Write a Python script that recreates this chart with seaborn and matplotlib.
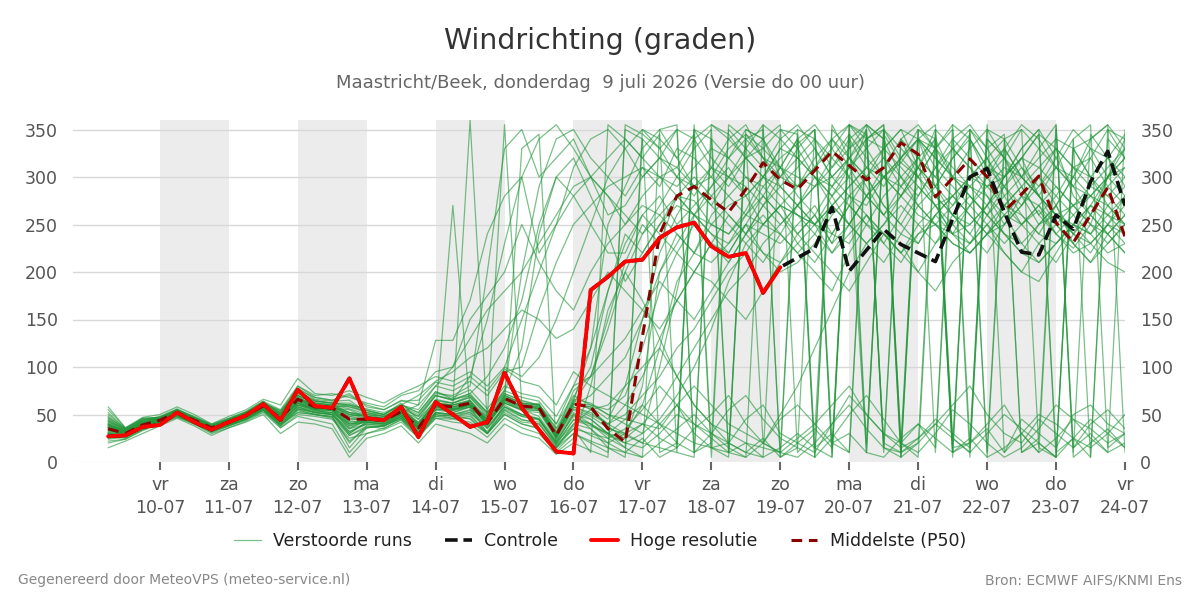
import numpy as np
import pandas as pd
import matplotlib
matplotlib.use("Agg")
import matplotlib.pyplot as plt
from matplotlib.lines import Line2D
import seaborn as sns

# ---------------- data ----------------
# time axis: 6-hourly steps from 9 July 06 UTC (day 9.25) to 24 July 00 UTC
start_day = 9.25
step_days = 0.25
n_steps = 60

day_ticks = list(range(10, 25))
day_names = ["vr", "za", "zo", "ma", "di", "wo", "do", "vr", "za", "zo", "ma", "di", "wo", "do", "vr"]
day_labels = ["10-07", "11-07", "12-07", "13-07", "14-07", "15-07", "16-07", "17-07",
              "18-07", "19-07", "20-07", "21-07", "22-07", "23-07", "24-07"]
shaded_days = [10, 12, 14, 16, 18, 20, 22]

hoge_resolutie = [27, 28, 37, 39, 52, 42, 34, 42, 49, 61,
                  44, 76, 59, 57, 88, 46, 44, 58, 26, 63,
                  50, 37, 42, 94, 57, 34, 11, 9, 181, 195,
                  211, 213, 236, 247, 252, 227, 216, 220, 178, 205]

controle = [27, 28, 37, 39, 52, 42, 34, 42, 49, 61,
            44, 76, 59, 57, 88, 46, 44, 58, 26, 63,
            50, 37, 42, 94, 57, 34, 11, 9, 181, 195,
            211, 213, 236, 247, 252, 227, 216, 220, 178, 205,
            215, 225, 268, 201, 223, 245, 229, 220, 211, 256,
            300, 309, 263, 221, 218, 260, 245, 295, 327, 270]

p50 = [35, 30, 39, 44, 52, 44, 36, 42, 49, 59,
       46, 66, 58, 57, 45, 45, 44, 53, 36, 60,
       58, 62, 41, 67, 59, 57, 28, 61, 58, 35,
       21, 132, 240, 280, 290, 276, 263, 287, 315, 297,
       287, 307, 327, 312, 297, 310, 336, 324, 279, 299,
       319, 300, 264, 282, 301, 252, 231, 260, 289, 237]

m01 = [38,31,42,45,54,45,35,43,50,60, 44,70,62,60,52,50,46,58,40,62, 55,60,38,70,62,55,30,75,90,140,
       200,240,260,280,275,250,240,265,300,320, 335,350,10,345,320,300,315,340,290,270, 300,320,280,250,265,240,225,250,300,280]
m02 = [30,28,36,42,50,42,34,40,47,57, 40,60,55,50,30,42,40,50,30,55, 52,58,45,62,55,48,22,50,45,30,
       25,40,35,60,30,15,20,10,25,5, 15,350,20,30,10,5,25,40,15,355, 20,35,10,45,30,15,50,60,40,30]
m03 = [45,33,44,48,56,47,38,45,52,63, 52,75,65,62,60,55,50,62,45,70, 65,90,150,230,300,340,355,330,300,280,
       250,280,300,290,310,330,320,350,340,300, 290,310,340,355,330,300,280,310,350,20, 340,300,270,290,310,330,280,260,300,320]
m04 = [25,27,35,40,49,40,32,38,45,55, 38,55,50,48,20,38,35,45,25,50, 48,50,30,55,45,40,15,40,35,20,
       10,25,5,15,350,340,10,20,5,15, 30,15,5,355,345,20,10,350,330,10, 25,5,15,30,10,350,5,20,35,15]
m05 = [50,35,46,47,55,48,40,46,53,64, 50,80,68,65,70,60,55,65,60,80, 75,85,70,95,100,160,210,250,270,290,
       300,310,290,330,320,300,280,260,250,270, 240,260,230,280,300,270,250,230,260,280, 300,290,270,260,240,230,250,270,260,250]
m06 = [33,29,38,43,51,43,36,41,48,58, 45,62,56,55,38,46,44,55,38,62, 60,65,40,68,58,62,25,65,55,40,
       60,90,130,170,200,230,220,250,240,230, 250,270,240,230,260,240,220,250,270,240, 230,260,240,220,250,270,230,210,240,260]
m07 = [40,30,40,44,53,44,37,42,49,60, 48,68,60,58,50,48,45,52,60,128, 128,170,240,280,300,220,250,310,340,350,
       330,300,320,350,340,310,290,320,330,350, 345,5,340,320,300,330,350,310,290,320, 340,310,290,270,300,330,310,290,280,300]
m08 = [28,26,37,42,50,43,34,40,46,56, 42,58,52,50,35,40,38,48,32,50, 270,55,45,60,50,45,20,40,55,60,
       80,100,120,90,60,40,30,20,15,10, 25,40,60,80,50,30,20,350,340,15, 20,40,60,30,10,25,45,35,20,30]
m09 = [36,32,39,45,52,45,35,43,50,59, 47,64,57,56,40,44,46,54,42,58, 60,360,40,62,55,60,35,60,70,90,
       110,150,200,230,260,250,270,280,300,290, 310,330,300,280,270,300,320,340,310,290, 270,290,310,300,280,260,270,290,310,330]
m10 = [32,30,38,43,51,44,36,41,48,58, 50,60,57,55,48,44,42,52,38,55, 55,60,48,355,60,58,30,62,90,150,
       210,250,230,280,300,280,260,240,270,290, 270,250,280,300,350,10,340,300,280,260, 240,270,300,320,280,250,230,260,290,310]
m11 = [44,34,43,46,54,46,38,44,51,61, 52,72,64,62,60,56,52,60,55,80, 100,150,175,200,250,210,180,160,200,230,
       250,270,260,240,220,260,280,300,290,270, 260,250,270,290,310,300,280,260,250,270, 290,280,260,250,270,290,270,250,240,260]
m12 = [27,25,34,40,48,41,32,39,45,54, 36,50,48,45,25,30,36,44,28,46, 45,42,30,50,40,35,15,30,20,10,
       350,340,10,20,355,15,5,340,20,10, 350,15,30,10,340,355,20,5,345,10, 20,350,340,10,25,355,15,30,10,350]
m13 = [38,31,40,44,52,45,37,43,50,59, 46,68,59,57,55,47,45,54,40,62, 58,62,45,70,62,58,30,62,60,50,
       45,40,60,90,120,150,180,200,230,250, 270,290,300,320,340,330,310,290,270,280, 300,320,340,350,330,310,290,280,300,320]
m14 = [47,35,45,47,54,46,37,44,51,62, 54,78,66,64,65,52,48,58,50,72, 70,80,200,330,350,300,320,340,300,260,
       270,300,320,310,290,300,330,345,330,310, 290,320,340,310,280,260,290,320,340,300, 330,350,320,280,250,270,300,330,320,290]
m15 = [22,24,33,40,47,40,31,38,44,53, 40,52,50,47,28,36,38,46,30,48, 50,45,30,52,42,40,18,35,30,25,
       35,55,80,60,40,30,20,45,60,30, 20,10,40,70,50,30,15,25,40,60, 80,50,30,20,45,30,15,40,55,35]
m16 = [35,29,37,44,51,44,35,41,48,57, 44,63,57,56,42,43,43,52,36,60, 56,60,42,66,60,56,28,62,56,38,
       24,80,200,240,220,210,230,250,220,210, 230,250,220,240,260,230,210,240,250,230, 220,240,260,230,210,230,250,240,220,230]
m17 = [41,32,41,45,53,45,37,43,50,60, 50,66,60,58,48,50,48,55,45,64, 62,70,52,72,65,60,40,80,120,180,
       230,260,280,250,270,290,310,280,250,240, 220,200,180,220,250,240,220,200,230,250, 270,250,230,250,270,240,220,230,250,270]
m18 = [30,27,36,42,50,42,33,39,46,55, 40,56,53,52,32,40,40,48,30,52, 50,55,38,58,50,45,20,50,35,15,
       5,350,330,300,280,310,340,355,320,300, 330,350,5,340,310,290,320,350,10,340, 320,300,330,355,340,310,290,320,350,340]
m19 = [39,31,40,45,53,45,36,42,49,59, 47,64,58,57,45,45,44,53,36,60, 58,62,41,67,59,57,28,61,58,35,
       30,60,120,190,220,250,240,260,280,260, 240,260,230,250,280,260,240,230,260,240, 250,270,240,230,250,260,240,230,250,240]
m20 = [55,36,45,46,53,46,38,44,51,60, 48,70,62,60,58,52,48,56,48,70, 65,72,90,120,170,250,300,320,280,240,
       190,220,250,270,260,240,230,260,290,310, 340,355,330,300,10,350,320,300,330,355, 340,310,300,330,350,320,290,260,240,220]
m21 = [34,30,38,43,51,43,35,41,48,58, 45,62,55,54,40,42,42,50,35,58, 55,58,40,64,56,54,26,58,52,40,
       30,20,40,60,80,60,40,30,20,50, 80,120,160,200,230,250,270,250,230,260, 280,260,240,220,210,230,250,270,250,230]
m22 = [37,30,39,44,52,44,36,42,49,59, 46,66,58,57,44,46,44,53,37,60, 58,64,44,100,150,200,250,280,300,320,
       340,320,300,310,340,355,345,320,300,330, 350,340,310,330,355,340,300,280,310,340, 355,330,300,320,345,330,310,300,320,345]
m23 = [26,26,35,41,49,42,33,40,46,56, 42,58,52,50,30,42,40,48,32,52, 48,52,35,58,48,45,18,45,40,28,
       20,15,30,50,40,25,10,350,340,355, 10,30,350,330,345,15,5,340,355,25, 10,340,320,350,15,5,330,340,355,10]
m24 = [43,33,42,46,54,46,37,44,51,61, 50,70,62,60,52,48,46,56,42,66, 62,68,50,74,120,240,300,280,250,220,
       220,260,240,220,200,230,260,240,220,200, 210,230,260,280,260,240,220,240,260,280, 260,240,220,200,230,250,270,250,230,250]
m25 = [31,29,37,43,51,43,35,41,47,57, 43,60,55,54,36,44,43,51,36,58, 56,60,42,65,57,55,26,55,45,30,
       15,5,350,320,290,270,300,320,340,310, 280,260,290,320,300,270,250,280,310,330, 310,280,250,270,300,280,260,240,270,290]
m26 = [48,34,44,46,54,46,38,44,52,62, 54,74,64,62,62,54,50,60,52,74, 68,76,56,80,72,68,48,80,90,110,
       130,160,190,170,150,180,210,240,260,240, 220,240,270,250,230,250,280,300,270,250, 230,250,270,290,260,240,260,280,270,250]
m27 = [29,27,36,42,49,42,33,39,45,55, 38,54,50,48,15,36,38,46,30,50, 46,48,32,54,44,42,16,38,28,20,
       30,40,25,15,35,50,70,40,20,10, 5,20,40,60,35,15,10,25,45,30, 15,355,10,30,50,40,25,15,30,50]
m28 = [36,31,39,44,52,44,36,42,49,59, 46,65,58,57,46,46,44,53,38,60, 57,62,42,66,58,57,29,61,58,45,
       80,150,220,260,290,310,300,280,300,330, 320,300,290,310,330,350,5,340,320,300, 290,310,330,300,280,260,240,270,300,330]
m29 = [40,32,41,45,53,45,37,43,50,60, 49,67,60,58,50,48,46,55,40,62, 60,65,46,70,62,60,32,66,62,50,
       40,30,100,180,260,280,300,290,270,250, 270,290,310,340,355,320,290,310,280,260, 250,270,290,310,280,260,250,240,260,280]
m30 = [33,30,38,43,51,43,35,41,48,58, 45,62,56,55,42,44,43,52,36,59, 56,60,40,66,58,56,27,58,50,40,
       50,70,90,120,140,170,200,220,250,270, 290,310,290,270,250,280,300,320,300,280, 260,240,250,270,290,310,300,280,260,240]
m31 = [58,36,47,50,58,50,40,48,55,66, 60,88,72,70,75,68,62,72,80,90, 85,95,80,100,90,110,150,200,250,300,
       330,350,340,320,345,5,350,330,310,340, 355,330,300,320,350,15,340,320,300,330, 350,10,340,310,290,320,350,330,300,340]
m32 = [15,22,30,38,46,38,28,36,42,50, 30,42,40,35,5,25,30,38,20,40, 35,30,20,40,30,25,8,20,12,5,
       355,345,330,350,10,20,355,340,350,5, 20,35,15,355,340,350,20,40,25,10, 350,330,345,10,20,5,340,355,15,30]
m33 = [42,32,44,46,55,47,39,46,53,64, 55,80,70,72,68,62,58,70,75,95, 100,130,160,180,200,230,260,290,300,280,
       260,240,270,300,290,270,250,230,210,240, 270,300,280,250,230,210,240,270,290,260, 240,220,250,280,300,270,240,220,250,280]
m34 = [36,30,40,44,52,44,36,42,49,58, 44,62,56,54,35,44,42,52,34,58, 52,58,30,62,330,345,15,35,10,355,
       340,320,345,10,350,320,300,330,355,5, 340,310,330,355,20,345,315,300,330,350, 5,340,320,300,330,355,10,345,320,300]
m35 = [40,32,41,45,53,45,36,42,49,59, 46,66,58,57,60,52,50,60,70,85, 95,110,120,140,160,150,130,140,170,200,
       180,160,140,170,200,190,170,150,180,210, 240,220,200,180,210,240,230,200,180,210, 230,250,220,200,190,220,250,230,210,200]
m36 = [20,24,34,42,48,40,30,36,43,52, 36,48,44,40,10,30,34,42,26,46, 42,40,26,46,36,30,10,25,80,160,
       200,170,130,90,60,40,20,10,5,350, 330,300,270,250,280,310,340,355,330,300, 280,260,290,320,345,5,330,300,280,260]
m37 = [52,35,46,47,55,47,39,45,52,62, 52,76,68,65,72,58,55,64,65,84, 80,90,75,98,85,80,60,95,80,70,
       60,50,40,30,20,15,10,5,355,340, 320,300,280,310,340,355,10,20,350,330, 310,290,300,330,350,10,25,5,340,320]
m38 = [34,30,38,43,51,43,34,40,47,57, 42,60,54,52,38,42,40,50,34,56, 54,58,40,62,54,52,24,52,40,30,
       20,30,45,70,100,140,190,230,250,270, 260,240,220,250,280,300,290,270,250,230, 220,240,260,280,270,250,230,210,230,250]
m39 = [30,28,37,43,50,42,34,40,47,56, 40,56,52,50,28,38,38,48,30,52, 50,52,36,56,48,44,20,44,38,30,
       45,60,40,20,10,30,55,70,45,25, 15,5,25,50,70,45,20,10,30,55, 40,20,5,15,35,60,45,25,10,20]
m40 = [46,34,43,47,55,46,38,45,52,62, 50,72,64,62,58,54,50,60,52,74, 66,72,52,76,200,290,340,350,320,300,
       280,310,300,280,260,290,320,340,320,290, 270,250,240,270,300,320,300,270,250,240, 270,300,320,290,260,280,310,320,290,270]
m41 = [31,29,38,43,50,43,35,41,47,57, 44,58,54,52,40,42,42,50,35,56, 54,60,40,64,55,54,25,56,48,36,
       28,20,15,10,5,355,340,320,300,280, 260,250,270,290,310,330,350,340,320,300, 280,260,280,300,320,340,330,300,270,250]
m42 = [37,31,40,45,52,45,36,42,49,60, 48,66,60,58,50,46,46,54,40,62, 60,64,44,68,62,60,32,64,120,250,
       290,330,350,355,10,340,320,300,280,310, 340,5,355,320,290,260,280,310,340,5, 350,320,290,260,240,270,300,340,355,330]
m43 = [24,26,35,41,48,41,32,38,45,55, 38,52,50,46,22,36,38,46,28,48, 46,46,30,50,40,36,12,30,22,15,
       10,5,20,35,50,30,15,5,20,45, 60,40,20,10,355,340,5,20,40,25, 10,30,50,35,20,5,25,45,30,15]
m44 = [43,33,42,46,54,46,38,44,51,61, 52,70,62,60,56,50,48,57,48,70, 66,70,52,75,68,64,40,70,60,55,
       70,120,180,220,250,230,210,240,270,300, 320,340,320,300,280,300,320,340,330,310, 290,270,300,320,310,290,270,280,300,310]
m45 = [29,27,36,42,49,42,34,39,46,55, 40,56,52,50,32,40,40,48,32,52, 50,54,36,58,50,46,22,48,40,25,
       15,340,320,300,330,350,10,345,320,310, 300,290,320,345,10,350,330,310,290,320, 345,5,330,300,280,310,340,5,350,320]
m46 = [39,31,40,45,53,45,37,43,50,60, 48,68,60,58,52,48,46,55,40,65, 62,68,48,72,64,60,36,68,100,180,
       240,220,250,280,260,240,220,250,280,260, 230,210,240,270,250,230,260,290,270,240, 220,240,270,250,230,210,240,260,240,220]

members = [m01, m02, m03, m04, m05, m06, m07, m08, m09, m10,
           m11, m12, m13, m14, m15, m16, m17, m18, m19, m20,
           m21, m22, m23, m24, m25, m26, m27, m28, m29, m30,
           m31, m32, m33, m34, m35, m36, m37, m38, m39, m40,
           m41, m42, m43, m44, m45, m46]

title = "Windrichting (graden)"
subtitle = "Maastricht/Beek, donderdag  9 juli 2026 (Versie do 00 uur)"
footer_left = "Gegenereerd door MeteoVPS (meteo-service.nl)"
footer_right = "Bron: ECMWF AIFS/KNMI Ens"
legend_labels = ["Verstoorde runs", "Controle", "Hoge resolutie", "Middelste (P50)"]

# ---------------- build frames ----------------
x_all = start_day + step_days * np.arange(n_steps)
rows = []
for k, m in enumerate(members):
    for xv, yv in zip(x_all, m):
        rows.append((k, xv, yv))
ens_df = pd.DataFrame(rows, columns=["member", "x", "value"])
hr_df = pd.DataFrame({"x": x_all[:len(hoge_resolutie)], "value": hoge_resolutie})
ctrl_df = pd.DataFrame({"x": x_all[:len(controle)], "value": controle})
p50_df = pd.DataFrame({"x": x_all[:len(p50)], "value": p50})

# ---------------- plot ----------------
sns.set_theme(style="white")
plt.rcParams["font.family"] = ["DejaVu Sans"]

fig = plt.figure(figsize=(12, 6), dpi=100)
ax = fig.add_axes([73 / 1200, 1 - 462 / 600, (1125 - 73) / 1200, (462 - 120) / 600])

for d in shaded_days:
    ax.axvspan(d, d + 1, color="#ececec", zorder=0, lw=0)

ens_color = "#22963a"
sns.lineplot(data=ens_df, x="x", y="value", units="member", estimator=None,
             color=ens_color, lw=0.9, alpha=0.6, sort=False, legend=False, ax=ax, zorder=2)
sns.lineplot(data=p50_df, x="x", y="value", color="#8b0000", lw=2.2, sort=False,
             legend=False, ax=ax, zorder=3)
ax.lines[-1].set_dashes((3.5, 2.2))
sns.lineplot(data=ctrl_df, x="x", y="value", color="#111111", lw=2.6, sort=False,
             legend=False, ax=ax, zorder=4)
ax.lines[-1].set_dashes((3.5, 1.6))
sns.lineplot(data=hr_df, x="x", y="value", color="#ff0000", lw=2.8, sort=False,
             legend=False, ax=ax, zorder=5)

ax.set_xlim(8.74, 24.0)
ax.set_ylim(0, 360)
ax.set_xlabel("")
ax.set_ylabel("")
for s in ax.spines.values():
    s.set_visible(False)

ax.set_yticks(range(0, 351, 50))
ax.grid(axis="y", color="#d8d8d8", lw=1)
ax.grid(axis="x", visible=False)
ax.yaxis.get_gridlines()[0].set_color("#f2f2f2")
ax.tick_params(axis="y", left=False, right=False, labelleft=True, labelright=True,
               labelsize=12.5, labelcolor="#555555", pad=5)

ax.set_xticks(day_ticks)
ax.set_xticklabels([f"{n}\n{l}" for n, l in zip(day_names, day_labels)])
ax.tick_params(axis="x", bottom=True, length=6, width=1.5, color="#666666",
               labelsize=12.5, labelcolor="#555555", pad=4)
for lab in ax.get_xticklabels():
    lab.set_linespacing(1.35)

fig.text(0.5, 1 - 41 / 600, title, ha="center", va="center", fontsize=20.5, color="#333333")
fig.text(0.5, 1 - 83 / 600, subtitle, ha="center", va="center", fontsize=13, color="#666666")

handles = [
    Line2D([], [], color=ens_color, lw=0.9, alpha=0.6),
    Line2D([], [], color="#111111", lw=2.6, dashes=(3.5, 1.6)),
    Line2D([], [], color="#ff0000", lw=2.8),
    Line2D([], [], color="#8b0000", lw=2.2, dashes=(3.5, 2.2)),
]
fig.legend(handles, legend_labels, loc="center", bbox_to_anchor=(0.5, 1 - 541 / 600),
           ncol=4, frameon=False, fontsize=12.5, handlelength=1.55, handletextpad=0.7,
           columnspacing=1.9, labelcolor="#222222")

fig.text(18 / 1200, 1 - 580 / 600, footer_left, ha="left", va="center", fontsize=10, color="#888888")
fig.text(1182 / 1200, 1 - 580 / 600, footer_right, ha="right", va="center", fontsize=10, color="#888888")

fig.savefig("out.png", dpi=100)
